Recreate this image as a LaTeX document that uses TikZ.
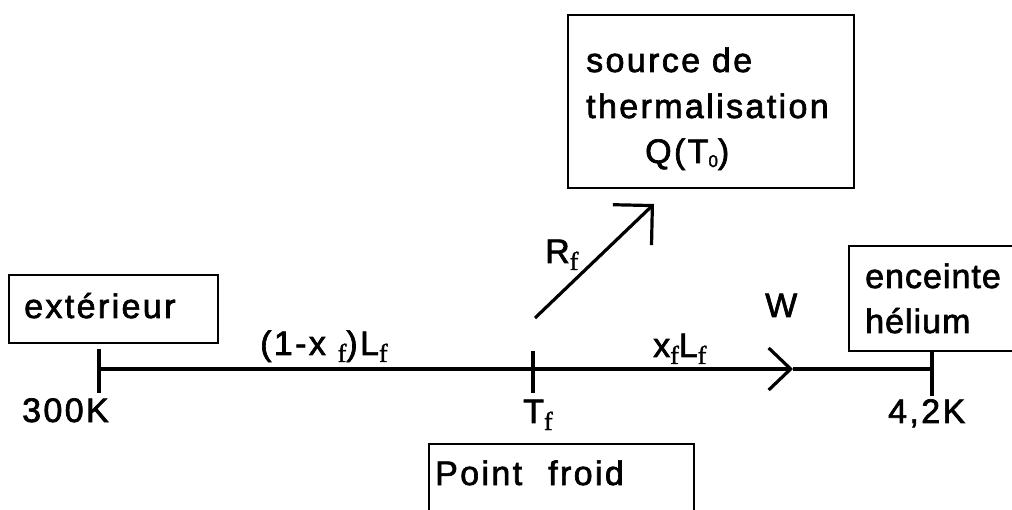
\documentclass[tikz,border=0pt]{standalone}
\usepackage{fontspec}
\setmainfont{Liberation Sans}[LetterSpace=7,FakeBold=2]
\newfontfamily\subfont{Liberation Serif}[FakeBold=1.5]
\newfontfamily\tightfont{Liberation Sans}[LetterSpace=3,FakeBold=2]
\usetikzlibrary{arrows.meta}
\newcommand\sbf{\raisebox{-7pt}{\subfont\fontsize{26}{26}\selectfont f}}
\newcommand\sbz{\raisebox{-4pt}{\fontsize{17}{17}\selectfont 0}}
\tikzset{
  txt/.style={font=\fontsize{34}{46}\selectfont, inner sep=0pt, anchor=base west},
  boxed/.style={draw, line width=1.8pt, anchor=north west, inner sep=0pt},
  ln/.style={line width=3.2pt},
  barb/.style={-{Straight Barb[length=22pt,width=42pt,line width=3.2pt]}},
  barbd/.style={-{Straight Barb[length=28pt,width=56pt,line width=3.2pt]}},
}
\begin{document}
\begin{tikzpicture}[x=1pt,y=-1pt]
\useasboundingbox (0,0) rectangle (1012,510);
% boxes
\node[boxed, minimum width=209pt, minimum height=68pt] (ext) at (8,274) {};
\node[boxed, minimum width=286pt, minimum height=173pt] (src) at (567,14) {};
\node[boxed, minimum width=180pt, minimum height=105pt] (enc) at (848,245) {};
\node[boxed, minimum width=265pt, minimum height=80pt] (pf) at (428,443) {};
% box texts
\node[txt] (t1) at (24,318) {extérieur};
\node[txt] (t2) at (586,72) {source de};
\node[txt] (t3) at (586,118) {thermalisation};
\node[txt] (t4) at (645,163) {Q(T\sbz)};
\node[txt, font=\tightfont\fontsize{34}{46}\selectfont] (t5) at (865,288) {enceinte};
\node[txt, font=\tightfont\fontsize{34}{46}\selectfont] (t6) at (865,333) {hélium};
\node[txt] (t7) at (435,485) {Point\kern26pt froid};
% axis
\coordinate (A) at (99,369);
\coordinate (M) at (533,369);
\coordinate (W1) at (793,369);
\coordinate (B) at (932,369);
\draw[ln, barb] (A) -- (W1);
\draw[ln] (W1) -- (B);
\draw[ln] ([yshift=20pt]A) -- ([yshift=-24pt]A);
\draw[ln] ([yshift=18pt]M) -- ([yshift=-24pt]M);
\draw[ln] (enc.south -| B) -- ([yshift=-27pt]B);
% diagonal
\coordinate (R0) at (535,318);
\coordinate (R1) at (654,204);
\draw[ln, barbd] (R0) -- (R1);
% labels
\node[txt] (l300) at (22,422) {300K};
\node[txt] (lTf) at (523,423) {T\sbf};
\node[txt] (l42) at (888,423) {4,2K};
\node[txt] (lL1) at (260,355) {(1-x \sbf)L\sbf};
\node[txt] (lL2) at (653,357) {x\sbf L\sbf};
\node[txt] (lW) at (765,317) {W};
\node[txt] (lR) at (545,263) {R\sbf};
\end{tikzpicture}
\end{document}
